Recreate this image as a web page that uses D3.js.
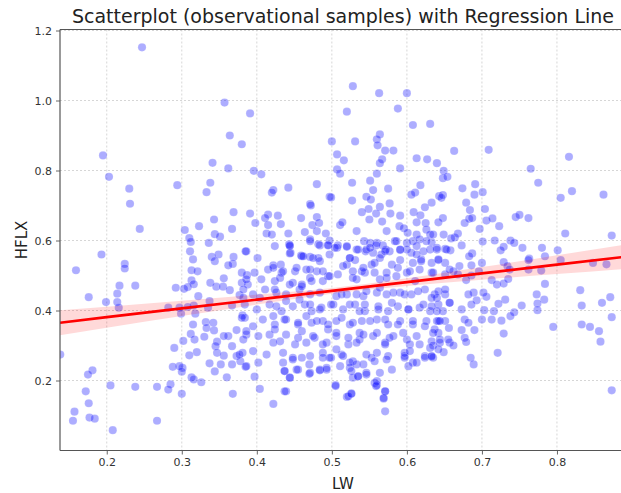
<!DOCTYPE html>
<html>
<head>
<meta charset="utf-8">
<script src="https://cdn.jsdelivr.net/npm/d3@7"></script>
<style>
  html, body { margin: 0; padding: 0; background: #fff; }
  text { font-family: "DejaVu Sans", sans-serif; }
</style>
</head>
<body>
<svg id="chart" width="621" height="493"></svg>
<script>
// ---------- data ----------
const samples = [
[0.247,1.152],[0.357,0.994],[0.391,0.963],[0.364,0.900],[0.380,0.875],[0.195,0.843],[0.341,0.822],[0.362,0.806],[0.203,0.782],[0.230,0.748],[0.294,0.758],[0.338,0.765],[0.333,0.738],[0.231,0.705],[0.369,0.681],[0.391,0.677],[0.343,0.660],
[0.244,0.633],[0.323,0.641],[0.304,0.630],[0.367,0.633],[0.344,0.618],[0.351,0.611],[0.310,0.607],[0.312,0.596],[0.336,0.593],[0.193,0.560],[0.224,0.533],[0.224,0.520],[0.159,0.515],[0.311,0.569],[0.340,0.553],[0.349,0.560],[0.315,0.546],[0.344,0.541],[0.369,0.553],[0.368,0.533],[0.362,0.529],[0.386,0.569],[0.387,0.501],[0.313,0.515],[0.321,0.512],[0.356,0.492],[0.313,0.486],[0.316,0.475],[0.308,0.467],[0.303,0.462],[0.292,0.465],[0.338,0.479],[0.346,0.468],[0.355,0.468],[0.364,0.458],[0.380,0.479],[0.388,0.474],[0.238,0.471],[0.217,0.471],[0.214,0.448],[0.176,0.438],[0.199,0.424],[0.214,0.424],[0.216,0.408],[0.322,0.441],[0.337,0.427],[0.335,0.408],[0.282,0.408],[0.297,0.408],[0.299,0.391],[0.316,0.414],[0.318,0.391],[0.308,0.410],[0.367,0.414],[0.377,0.444],[0.382,0.436],[0.381,0.386],[0.384,0.379],[0.373,0.344],[0.386,0.331],[0.315,0.360],[0.332,0.367],[0.333,0.350],[0.342,0.365],[0.343,0.343],[0.312,0.333],[0.317,0.317],[0.302,0.313],[0.330,0.325],[0.347,0.311],[0.345,0.298],[0.362,0.327],[0.356,0.327],[0.367,0.298],[0.373,0.270],[0.381,0.279],[0.385,0.239],[0.347,0.279],[0.356,0.271],[0.352,0.246],[0.367,0.246],[0.378,0.255],[0.337,0.249],[0.344,0.226],[0.320,0.281],[0.310,0.272],[0.290,0.293],[0.301,0.236],[0.300,0.225],[0.297,0.241],[0.288,0.239],[0.313,0.209],[0.316,0.203],[0.326,0.195],[0.360,0.209],[0.368,0.162],[0.300,0.162],[0.285,0.189],[0.282,0.174],[0.267,0.182],[0.238,0.182],[0.205,0.186],[0.181,0.229],[0.175,0.217],[0.172,0.169],[0.176,0.135],[0.157,0.111],[0.155,0.085],[0.177,0.094],[0.184,0.091],[0.267,0.085],[0.208,0.058],[0.138,0.274],
[0.528,1.041],[0.563,1.021],[0.600,1.021],[0.520,0.968],[0.588,0.977],[0.608,0.930],[0.631,0.933],[0.500,0.883],[0.531,0.883],[0.564,0.903],[0.560,0.889],[0.561,0.872],[0.571,0.857],[0.582,0.857],[0.507,0.846],[0.516,0.829],[0.567,0.832],[0.564,0.821],[0.613,0.835],[0.627,0.832],[0.640,0.821],[0.591,0.806],[0.396,0.799],[0.406,0.789],[0.507,0.803],[0.511,0.791],[0.560,0.791],[0.551,0.771],[0.527,0.765],[0.480,0.761],[0.442,0.751],[0.422,0.744],[0.420,0.737],[0.555,0.744],[0.575,0.748],[0.618,0.758],[0.611,0.737],[0.606,0.731],[0.643,0.727],[0.497,0.725],[0.499,0.723],[0.546,0.725],[0.552,0.717],[0.527,0.714],[0.471,0.704],[0.472,0.700],[0.577,0.706],[0.564,0.696],[0.549,0.690],[0.633,0.708],[0.624,0.695],[0.415,0.674],[0.411,0.664],[0.428,0.671],[0.398,0.650],[0.415,0.644],[0.432,0.647],[0.459,0.664],[0.480,0.667],[0.540,0.681],[0.559,0.677],[0.578,0.677],[0.591,0.671],[0.609,0.681],[0.618,0.672],[0.550,0.660],[0.567,0.654],[0.613,0.652],[0.625,0.650],[0.511,0.644],[0.514,0.652],[0.474,0.644],[0.483,0.650],[0.413,0.620],[0.420,0.617],[0.442,0.620],[0.464,0.624],[0.480,0.627],[0.492,0.620],[0.533,0.627],[0.573,0.627],[0.590,0.641],[0.596,0.635],[0.601,0.622],[0.613,0.617],[0.626,0.631],[0.631,0.617],[0.471,0.603],[0.497,0.600],[0.443,0.589],[0.482,0.589],[0.495,0.587],[0.507,0.579],[0.520,0.584],[0.543,0.598],[0.551,0.593],[0.560,0.593],[0.568,0.586],[0.584,0.598],[0.600,0.593],[0.608,0.598],[0.617,0.603],[0.633,0.595],[0.385,0.569],[0.401,0.550],[0.445,0.565],[0.459,0.557],[0.497,0.560],[0.524,0.550],[0.545,0.569],[0.555,0.565],[0.566,0.560],[0.577,0.569],[0.591,0.573],[0.606,0.565],[0.622,0.569],[0.640,0.579],
[0.444,0.586],[0.444,0.563],[0.471,0.598],[0.484,0.586],[0.495,0.586],[0.508,0.586],[0.520,0.582],[0.533,0.574],[0.546,0.574],[0.559,0.586],[0.572,0.574],[0.586,0.598],[0.600,0.574],[0.613,0.584],[0.626,0.598],[0.640,0.574],
[0.460,0.555],[0.471,0.553],[0.482,0.550],[0.422,0.529],[0.432,0.531],[0.415,0.517],[0.520,0.531],[0.531,0.544],[0.553,0.531],[0.564,0.550],[0.580,0.531],[0.591,0.544],[0.608,0.536],[0.619,0.546],[0.633,0.536],
[0.380,0.508],[0.386,0.489],[0.397,0.508],[0.406,0.489],[0.433,0.508],[0.451,0.512],[0.466,0.517],[0.480,0.512],[0.495,0.498],[0.508,0.503],[0.528,0.512],[0.544,0.508],[0.557,0.508],[0.573,0.508],[0.586,0.498],[0.600,0.508],[0.617,0.517],[0.633,0.508],[0.424,0.484],[0.448,0.479],[0.471,0.493],[0.488,0.484],[0.533,0.489],[0.564,0.489],[0.611,0.484],
[0.382,0.460],[0.395,0.446],[0.411,0.460],[0.426,0.451],[0.439,0.446],[0.457,0.460],[0.471,0.446],[0.484,0.451],[0.506,0.441],[0.520,0.446],[0.542,0.441],[0.560,0.451],[0.573,0.446],[0.591,0.451],[0.606,0.446],[0.624,0.460],[0.637,0.446],[0.404,0.436],[0.460,0.474],
[0.384,0.417],[0.400,0.403],[0.417,0.417],[0.433,0.398],[0.448,0.412],[0.464,0.417],[0.473,0.398],[0.486,0.408],[0.502,0.417],[0.515,0.403],[0.531,0.417],[0.544,0.398],[0.562,0.412],[0.575,0.398],[0.588,0.412],[0.602,0.403],[0.617,0.408],[0.631,0.398],[0.642,0.417],
[0.380,0.379],[0.395,0.355],[0.408,0.374],[0.424,0.360],[0.439,0.374],[0.455,0.360],[0.473,0.365],[0.488,0.370],[0.506,0.370],[0.524,0.360],[0.540,0.370],[0.560,0.374],[0.575,0.360],[0.591,0.370],[0.608,0.360],[0.626,0.370],[0.640,0.370],[0.386,0.341],[0.495,0.346],
[0.382,0.317],[0.402,0.327],[0.417,0.331],[0.431,0.312],[0.455,0.322],[0.466,0.308],[0.477,0.322],[0.493,0.308],[0.506,0.327],[0.522,0.303],[0.537,0.317],[0.555,0.327],[0.571,0.308],[0.582,0.327],[0.600,0.317],[0.617,0.303],[0.633,0.312],[0.642,0.336],
[0.377,0.274],[0.395,0.284],[0.413,0.274],[0.435,0.279],[0.448,0.265],[0.471,0.270],[0.488,0.279],[0.499,0.265],[0.513,0.274],[0.528,0.255],[0.546,0.274],[0.560,0.279],[0.575,0.270],[0.597,0.270],[0.608,0.251],[0.624,0.270],[0.635,0.265],[0.386,0.241],[0.402,0.251],
[0.397,0.211],[0.437,0.227],[0.444,0.208],[0.455,0.231],[0.471,0.222],[0.484,0.231],[0.493,0.236],[0.524,0.236],[0.535,0.212],[0.546,0.222],[0.557,0.193],[0.560,0.187],[0.505,0.187],
[0.404,0.176],[0.439,0.169],[0.520,0.153],[0.526,0.163],[0.571,0.169],[0.569,0.148],[0.422,0.133],[0.571,0.112],
[0.663,0.856],[0.709,0.859],[0.816,0.839],[0.649,0.799],[0.648,0.778],[0.654,0.782],[0.765,0.805],[0.775,0.765],[0.674,0.749],[0.691,0.761],[0.690,0.731],[0.701,0.738],[0.648,0.730],[0.646,0.722],[0.679,0.708],[0.805,0.722],[0.820,0.741],[0.862,0.731],[0.684,0.687],[0.704,0.690],[0.648,0.664],[0.642,0.652],[0.677,0.650],[0.683,0.662],[0.687,0.664],[0.706,0.657],[0.714,0.663],[0.723,0.641],[0.745,0.667],[0.750,0.673],[0.762,0.664],[0.697,0.633],[0.668,0.620],[0.649,0.617],[0.664,0.609],[0.659,0.606],[0.635,0.617],[0.673,0.586],[0.701,0.597],[0.717,0.600],[0.738,0.600],[0.743,0.593],[0.811,0.620],[0.873,0.614],[0.754,0.579],[0.780,0.579],[0.801,0.572],[0.729,0.582],[0.725,0.572],[0.651,0.576],[0.658,0.572],[0.687,0.563],[0.683,0.555],[0.784,0.555],[0.763,0.548],
[0.762,0.544],[0.805,0.544],[0.848,0.536],[0.866,0.532],[0.729,0.538],[0.734,0.527],[0.737,0.517],[0.762,0.517],[0.779,0.514],[0.700,0.536],[0.686,0.529],[0.670,0.527],[0.662,0.512],[0.651,0.536],[0.642,0.544],[0.635,0.508],[0.651,0.503],[0.668,0.503],[0.686,0.500],[0.696,0.512],[0.679,0.487],[0.713,0.487],[0.720,0.474],[0.729,0.477],[0.735,0.490],[0.784,0.476],[0.831,0.458],[0.871,0.438],[0.860,0.422],[0.833,0.414],[0.873,0.381],[0.833,0.360],[0.844,0.353],[0.856,0.341],[0.858,0.311],[0.873,0.172],[0.773,0.446],[0.783,0.431],[0.774,0.420],[0.774,0.401],[0.795,0.353],[0.753,0.414],[0.743,0.395],[0.738,0.384],[0.731,0.431],[0.722,0.419],[0.729,0.334],[0.726,0.371],[0.721,0.279],[0.713,0.374],[0.716,0.398],[0.703,0.401],[0.700,0.374],[0.706,0.439],[0.702,0.451],[0.693,0.429],[0.689,0.451],[0.682,0.446],[0.686,0.417],[0.673,0.403],[0.677,0.374],[0.682,0.365],[0.673,0.344],[0.690,0.344],[0.677,0.322],[0.679,0.310],[0.685,0.265],[0.689,0.246],[0.657,0.422],[0.651,0.446],[0.642,0.455],[0.640,0.436],[0.633,0.412],[0.648,0.398],[0.642,0.370],[0.651,0.370],[0.656,0.350],[0.637,0.346],[0.644,0.317],[0.657,0.308],[0.662,0.300],[0.635,0.300],[0.649,0.281],[0.633,0.268],
[0.424,0.584],[0.444,0.584],[0.462,0.555],[0.475,0.550],[0.484,0.541],[0.504,0.579],[0.524,0.550],[0.535,0.574],[0.422,0.522],[0.435,0.512],[0.453,0.522],[0.471,0.517],[0.488,0.512],[0.497,0.498],[0.515,0.527],[0.528,0.493],[0.540,0.512],[0.431,0.493],[0.444,0.474],[0.460,0.469],[0.473,0.484],[0.424,0.460],[0.513,0.446],[0.533,0.446],[0.426,0.412],[0.439,0.427],[0.457,0.431],[0.471,0.417],[0.484,0.403],[0.499,0.417],[0.524,0.417],[0.537,0.398],[0.422,0.384],[0.437,0.374],[0.455,0.365],[0.466,0.384],[0.480,0.370],[0.495,0.360],[0.513,0.379],[0.528,0.365],[0.424,0.346],[0.439,0.331],[0.460,0.341],[0.475,0.327],[0.506,0.336],[0.522,0.322],[0.537,0.336],[0.422,0.308],[0.451,0.303],[0.488,0.303],[0.533,0.308],
[0.551,0.579],[0.571,0.569],[0.591,0.574],[0.613,0.560],[0.631,0.574],[0.653,0.574],[0.542,0.522],[0.557,0.536],[0.573,0.493],[0.588,0.522],[0.604,0.512],[0.619,0.541],[0.642,0.546],[0.657,0.517],[0.546,0.455],[0.564,0.465],[0.582,0.451],[0.597,0.446],[0.615,0.455],[0.633,0.436],[0.651,0.460],[0.544,0.417],[0.562,0.403],[0.580,0.422],[0.602,0.403],[0.622,0.417],[0.640,0.398],[0.657,0.422],[0.551,0.370],[0.571,0.374],[0.588,0.360],[0.608,0.370],[0.624,0.355],[0.644,0.370],[0.542,0.331],[0.560,0.336],[0.577,0.322],[0.595,0.336],[0.613,0.327],[0.635,0.336],[0.655,0.317],[0.571,0.303],[0.604,0.303],[0.644,0.308],
[0.435,0.251],[0.437,0.227],[0.444,0.208],[0.437,0.169],[0.448,0.260],[0.460,0.265],[0.453,0.231],[0.470,0.246],[0.470,0.219],[0.484,0.229],[0.493,0.231],[0.497,0.265],[0.506,0.289],[0.511,0.241],[0.515,0.270],[0.524,0.251],[0.526,0.227],[0.533,0.246],[0.542,0.246],[0.528,0.208],[0.535,0.212],[0.546,0.217],[0.553,0.265],[0.557,0.255],[0.564,0.222],[0.560,0.198],[0.559,0.184],[0.571,0.169],[0.569,0.150],[0.505,0.184],[0.522,0.155],[0.526,0.162],[0.573,0.260],[0.580,0.231],[0.597,0.279],[0.597,0.265],[0.604,0.284],[0.602,0.241],[0.613,0.251],[0.624,0.265],[0.633,0.270],[0.642,0.289],[0.631,0.293],[0.488,0.265]
];

// regression line and its confidence band (read at several LW positions)
const lineLW   = [0.1377, 0.2, 0.3, 0.4, 0.5, 0.6, 0.7, 0.8, 0.892];
const lineFit  = [0.365, 0.381, 0.406, 0.431, 0.456, 0.481, 0.506, 0.531, 0.554];
const bandLow  = [0.329, 0.351, 0.384, 0.417, 0.448, 0.470, 0.488, 0.504, 0.519];
const bandHigh = [0.401, 0.411, 0.428, 0.445, 0.464, 0.492, 0.524, 0.558, 0.589];

const xTicks = [0.2, 0.3, 0.4, 0.5, 0.6, 0.7, 0.8];
const yTicks = [0.2, 0.4, 0.6, 0.8, 1.0, 1.2];

const titleText = "Scatterplot (observational samples) with Regression Line";
const xLabel = "LW";
const yLabel = "HFLX";

// ---------- layout ----------
const plot = { left: 60, right: 626, top: 29.5, bottom: 450.5 };
const svg = d3.select("#chart");

const x = d3.scaleLinear().domain([0.1377, 0.892]).range([plot.left, plot.right]);
const y = d3.scaleLinear().domain([0, 1.2029]).range([plot.bottom, plot.top]);

svg.append("rect").attr("width", 621).attr("height", 493).attr("fill", "#fff");

svg.append("defs").append("clipPath").attr("id", "clip")
  .append("rect")
  .attr("x", plot.left).attr("y", plot.top)
  .attr("width", plot.right - plot.left).attr("height", plot.bottom - plot.top);

// grid
const grid = svg.append("g").attr("class", "grid");
grid.selectAll("line.gx").data(xTicks).join("line")
  .attr("x1", d => x(d)).attr("x2", d => x(d))
  .attr("y1", plot.top).attr("y2", plot.bottom)
  .attr("stroke", "#cccccc").attr("stroke-width", 0.8).attr("stroke-dasharray", "2,2");
grid.selectAll("line.gy").data(yTicks).join("line")
  .attr("x1", plot.left).attr("x2", plot.right)
  .attr("y1", d => y(d)).attr("y2", d => y(d))
  .attr("stroke", "#cccccc").attr("stroke-width", 0.8).attr("stroke-dasharray", "2,2");

const body = svg.append("g").attr("clip-path", "url(#clip)");

// points
body.append("g").selectAll("circle").data(samples).join("circle")
  .attr("cx", d => x(d[0])).attr("cy", d => y(d[1]))
  .attr("r", 4.1)
  .attr("fill", "#0000ff").attr("fill-opacity", 0.32)
  .attr("stroke", "#ffffff").attr("stroke-opacity", 0.3).attr("stroke-width", 0.6);

// confidence band
const bandData = lineLW.map((v, i) => ({ x: v, lo: bandLow[i], hi: bandHigh[i] }));
body.append("path").datum(bandData)
  .attr("d", d3.area().x(d => x(d.x)).y0(d => y(d.lo)).y1(d => y(d.hi)).curve(d3.curveMonotoneX))
  .attr("fill", "#ff0000").attr("fill-opacity", 0.15);

// regression line
const lineData = lineLW.map((v, i) => ({ x: v, y: lineFit[i] }));
body.append("path").datum(lineData)
  .attr("d", d3.line().x(d => x(d.x)).y(d => y(d.y)))
  .attr("fill", "none").attr("stroke", "#ff0000").attr("stroke-width", 2.6);

// axes
const xAxis = d3.axisBottom(x).tickValues(xTicks).tickFormat(d3.format(".1f")).tickSize(4).tickPadding(4);
const yAxis = d3.axisLeft(y).tickValues(yTicks).tickFormat(d3.format(".1f")).tickSize(4).tickPadding(4);

const gx = svg.append("g").attr("transform", `translate(0,${plot.bottom})`).call(xAxis);
const gy = svg.append("g").attr("transform", `translate(${plot.left},0)`).call(yAxis);
[gx, gy].forEach(g => {
  g.select(".domain").remove();
  g.selectAll(".tick line").attr("stroke", "#555").attr("stroke-width", 0.9);
  g.selectAll(".tick text").attr("fill", "#333").style("font-size", "11px")
    .style("font-family", "'DejaVu Sans', sans-serif");
});

// spines (left, bottom, top)
svg.append("line").attr("x1", plot.left).attr("x2", plot.left).attr("y1", plot.top).attr("y2", plot.bottom)
  .attr("stroke", "#555").attr("stroke-width", 1.2);
svg.append("line").attr("x1", plot.left).attr("x2", plot.right).attr("y1", plot.bottom).attr("y2", plot.bottom)
  .attr("stroke", "#555").attr("stroke-width", 1.2);
svg.append("line").attr("x1", plot.left).attr("x2", plot.right).attr("y1", plot.top).attr("y2", plot.top)
  .attr("stroke", "#555").attr("stroke-width", 1.2);

// title and labels
svg.append("text").attr("x", (plot.left + plot.right) / 2).attr("y", 23)
  .attr("text-anchor", "middle").attr("fill", "#222").style("font-size", "19px").text(titleText);
svg.append("text").attr("x", (plot.left + plot.right) / 2).attr("y", 489)
  .attr("text-anchor", "middle").attr("fill", "#222").style("font-size", "15px").text(xLabel);
svg.append("text").attr("transform", `translate(27,${(plot.top + plot.bottom) / 2}) rotate(-90)`)
  .attr("text-anchor", "middle").attr("fill", "#222").style("font-size", "15px").text(yLabel);
</script>
</body>
</html>
